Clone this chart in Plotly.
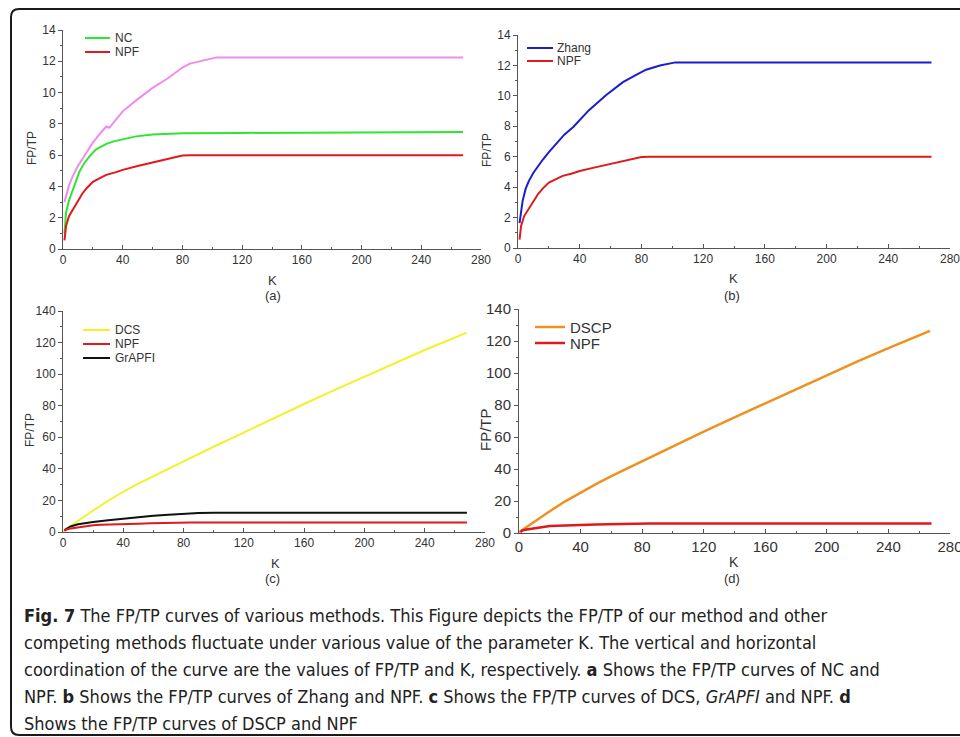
import plotly.graph_objects as go

W, H = 960, 737

# ---------------- data ----------------
k_npf = [1, 2, 4, 7, 10, 13, 16, 20, 25, 29, 35, 40, 50, 58, 69, 80, 85, 268]
v_npf = [0.55, 1.45, 2.1, 2.6, 3.1, 3.55, 3.9, 4.3, 4.55, 4.74, 4.9, 5.06, 5.3, 5.49, 5.74, 5.98, 6.0, 6.0]

k_nc = [1, 2, 4, 6, 8, 11, 14, 18, 22, 26, 29, 34, 40, 49, 60, 80, 120, 200, 268]
v_nc = [1.0, 2.3, 3.1, 3.65, 4.25, 4.95, 5.45, 5.95, 6.35, 6.58, 6.72, 6.88, 7.0, 7.2, 7.32, 7.4, 7.42, 7.46, 7.48]

k_pink = [1, 2, 4, 6, 10, 14, 20, 25, 29, 31, 35, 40, 49, 55, 60, 70, 80, 85, 91, 95, 103, 268]
v_pink = [3.0, 3.4, 4.05, 4.55, 5.3, 5.9, 6.8, 7.4, 7.83, 7.75, 8.2, 8.8, 9.5, 9.95, 10.3, 10.9, 11.6, 11.85, 12.0, 12.05, 12.25, 12.25]

k_zhang = [1, 2, 3, 5, 7, 10, 13, 16, 20, 25, 30, 36, 46, 57, 68, 76, 83, 92, 102, 268]
v_zhang = [1.64, 2.5, 3.1, 3.9, 4.4, 4.95, 5.4, 5.8, 6.3, 6.9, 7.45, 7.97, 9.06, 10.04, 10.9, 11.35, 11.72, 12.0, 12.2, 12.2]

k_dcs = [0, 10, 20, 30, 40, 50, 60, 70, 80, 100, 120, 140, 160, 180, 200, 220, 240, 268]
v_dcs = [0.5, 7.2, 13.6, 19.8, 25.5, 30.6, 35.5, 40.1, 44.8, 54.0, 63.2, 72.2, 81.1, 89.9, 98.5, 107.0, 115.3, 126.3]

k_grapfi = [1, 3, 5, 10, 15, 20, 30, 40, 50, 60, 70, 80, 90, 100, 268]
v_grapfi = [1.2, 2.6, 3.5, 4.9, 5.8, 6.4, 7.5, 8.5, 9.4, 10.3, 11.0, 11.6, 12.0, 12.2, 12.2]

k_dscp = [0, 10, 20, 30, 40, 50, 60, 70, 80, 100, 120, 140, 160, 180, 200, 220, 240, 267]
v_dscp = [0.5, 7.2, 13.6, 19.8, 25.4, 30.6, 35.6, 40.3, 44.9, 54.2, 63.4, 72.3, 81.1, 90.0, 98.8, 107.3, 115.5, 126.3]

x_ticks = [0, 40, 80, 120, 160, 200, 240, 280]
y_ticks_small = [0, 2, 4, 6, 8, 10, 12, 14]
y_ticks_big = [0, 20, 40, 60, 80, 100, 120, 140]

C_NPF = "#e0191c"
C_NC = "#2ee62e"
C_PINK = "#ee8cee"
C_ZHANG = "#1c1ccc"
C_DCS = "#f2f22a"
C_GRAPFI = "#111111"
C_DSCP = "#f0901e"

def px(x):
    return x / W

def py(y):
    return 1 - y / H

fig = go.Figure()

# panel boxes in pixels: (left, right, top, bottom)
panels = {
    "a": (63, 481, 30, 249),
    "b": (518, 950, 35, 248),
    "c": (63, 485, 311, 532),
    "d": (519, 950, 309, 533),
}
axis_ids = {"a": ("x", "y"), "b": ("x2", "y2"), "c": ("x3", "y3"), "d": ("x4", "y4")}

series = {
    "a": [(k_pink, v_pink, C_PINK, "Other", 2), (k_nc, v_nc, C_NC, "NC", 2), (k_npf, v_npf, C_NPF, "NPF", 2)],
    "b": [(k_zhang, v_zhang, C_ZHANG, "Zhang", 2), (k_npf, v_npf, C_NPF, "NPF", 2)],
    "c": [(k_dcs, v_dcs, C_DCS, "DCS", 2), (k_grapfi, v_grapfi, C_GRAPFI, "GrAPFI", 2), (k_npf, v_npf, C_NPF, "NPF", 2)],
    "d": [(k_dscp, v_dscp, C_DSCP, "DSCP", 2.5), (k_npf, v_npf, C_NPF, "NPF", 2.5)],
}

for p, lst in series.items():
    xa, ya = axis_ids[p]
    for kx, vy, col, name, lw in lst:
        fig.add_trace(go.Scatter(x=kx, y=vy, mode="lines", name=name, showlegend=False,
                                 line=dict(color=col, width=lw),
                                 xaxis=xa, yaxis=ya))

layout = dict(width=W, height=H, margin=dict(l=0, r=0, t=0, b=0, autoexpand=False),
              paper_bgcolor="white", plot_bgcolor="white", showlegend=False)

SANS = "Liberation Sans, Arial, sans-serif"
tick_font_small = dict(family=SANS, size=12, color="#333333")
tick_font_big = dict(family=SANS, size=15, color="#333333")

for p, (l, r, t, b) in panels.items():
    xa, ya = axis_ids[p]
    xkey = "xaxis" + xa[1:]
    ykey = "yaxis" + ya[1:]
    big_y = p in ("c", "d")
    tf = tick_font_big if p == "d" else tick_font_small
    layout[xkey] = dict(domain=[px(l), px(r)], anchor=ya, range=[0, 280], automargin=False,
                        ticklabeloverflow="allow",
                        tickvals=x_ticks, ticks="inside", ticklen=4, tickcolor="#555555",
                        minor=dict(dtick=20, ticks="inside", ticklen=2, tickcolor="#555555"),
                        showline=True, linecolor="#555555", linewidth=1,
                        showgrid=False, zeroline=False, tickfont=tf)
    layout[ykey] = dict(domain=[py(b), py(t)], anchor=xa, automargin=False,
                        ticklabeloverflow="allow",
                        range=[0, 140] if big_y else [0, 14],
                        tickvals=y_ticks_big if big_y else y_ticks_small,
                        ticks="outside", ticklen=4, tickcolor="#555555",
                        minor=dict(dtick=10 if big_y else 1, ticks="outside", ticklen=2, tickcolor="#555555"),
                        showline=True, linecolor="#555555", linewidth=1,
                        showgrid=False, zeroline=False, tickfont=tf)

fig.update_layout(**layout)

ann = []
shapes = []

def label(x, y, text, size, angle=0, xanchor="center", color="#333333", family=SANS):
    ann.append(dict(x=px(x), y=py(y), xref="paper", yref="paper", text=text, showarrow=False,
                    xanchor=xanchor, yanchor="middle", textangle=angle,
                    font=dict(family=family, size=size, color=color)))

# axis titles and panel tags
label(272, 280, "K", 13); label(273, 296, "(a)", 13)
label(733, 279, "K", 13); label(732, 296, "(b)", 13)
label(275, 563, "K", 13); label(272, 578, "(c)", 13)
label(734, 562, "K", 14); label(732, 578, "(d)", 13)
label(32, 148, "FP/TP", 12, angle=-90)
label(487, 150, "FP/TP", 12, angle=-90)
label(30, 430, "FP/TP", 12, angle=-90)
label(485, 430, "FP/TP", 15, angle=-90)

# legends (line sample + text)
legends = [
    (85, 110, 113, [(38, C_NC, "NC"), (52, C_NPF, "NPF")], 12, 2),
    (527, 553, 555, [(48, C_ZHANG, "Zhang"), (61, C_NPF, "NPF")], 12, 2),
    (83, 110, 113, [(330, C_DCS, "DCS"), (344, C_NPF, "NPF"), (358, C_GRAPFI, "GrAPFI")], 12, 2),
    (535, 565, 568, [(327, C_DSCP, "DSCP"), (343, C_NPF, "NPF")], 15, 2.5),
]
for x0, x1, xt, items, fs, lw in legends:
    for yy, col, txt in items:
        shapes.append(dict(type="line", xref="paper", yref="paper", x0=px(x0), x1=px(x1),
                           y0=py(yy), y1=py(yy), line=dict(color=col, width=lw)))
        label(xt, yy, txt, fs, xanchor="left")

# frame with rounded left corners
path_pts = "M {},{} L {},{} Q {},{} {},{} L {},{} Q {},{} {},{} L {},{}".format(
    px(975), py(9), px(19), py(9), px(11), py(9), px(11), py(17),
    px(11), py(727), px(11), py(735), px(19), py(735), px(975), py(735))
shapes.append(dict(type="path", xref="paper", yref="paper", path=path_pts,
                   line=dict(color="#1a1a1a", width=2)))

# caption
cap_font = "Liberation Sans Narrow, DejaVu Sans Condensed, Arial Narrow, sans-serif"
caption = [
    "<b>Fig. 7</b> The FP/TP curves of various methods. This Figure depicts the FP/TP of our method and other",
    "competing methods fluctuate under various value of the parameter K. The vertical and horizontal",
    "coordination of the curve are the values of FP/TP and K, respectively. <b>a</b> Shows the FP/TP curves of NC and",
    "NPF. <b>b</b> Shows the FP/TP curves of Zhang and NPF. <b>c</b> Shows the FP/TP curves of DCS, <i>GrAPFI</i> and NPF. <b>d</b>",
    "Shows the FP/TP curves of DSCP and NPF",
]
for i, line in enumerate(caption):
    label(22, 615 + 27 * i, line, 18, xanchor="left", color="#222222", family=cap_font)

fig.update_layout(annotations=ann, shapes=shapes)
fig.write_html("out.html", config={"displayModeBar": False},
               post_script="document.body.style.margin='0px';document.body.style.overflow='hidden';")
